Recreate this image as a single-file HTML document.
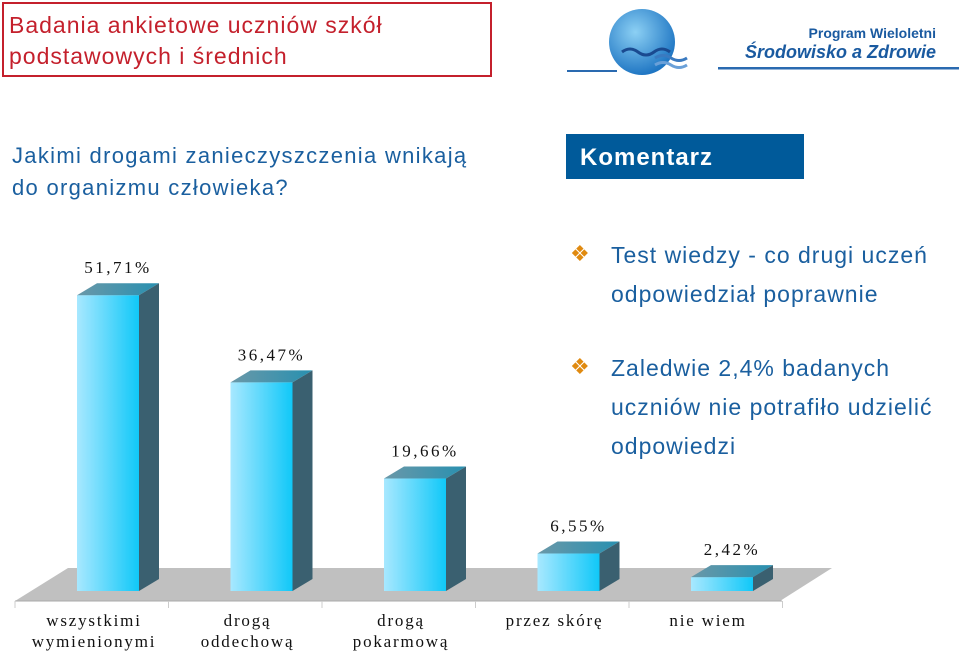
<!DOCTYPE html>
<html><head><meta charset="utf-8"><style>
body{margin:0;width:959px;height:652px;background:#fff;overflow:hidden;position:relative;font-family:"Liberation Sans",sans-serif}
.a{position:absolute;white-space:nowrap}
</style></head><body>
<div class="a" style="left:2px;top:2px;width:486px;height:71px;border:2px solid #c4202c;"></div>
<div class="a" style="left:9px;top:10px;color:#c4202c;font-size:23px;line-height:31px;letter-spacing:1px">Badania ankietowe uczniów szkół<br>podstawowych i średnich</div>
<svg class="a" style="left:560px;top:0" width="399" height="80">
<defs><radialGradient id="g" cx="0.4" cy="0.35" r="0.7"><stop offset="0" stop-color="#8cd0f4"/><stop offset="1" stop-color="#1870c0"/></radialGradient></defs>
<circle cx="82" cy="42" r="33" fill="url(#g)"/>
<path d="M62 52 q8-6 16 0 t16 0 t16 0" stroke="#1a4a90" stroke-width="3" fill="none"/>
<path d="M95 58 q8-5 16 0 t16 0" stroke="#3a7ac0" stroke-width="3" fill="none"/>
<path d="M95 65 q8-5 16 0 t16 0" stroke="#6aa0d8" stroke-width="3" fill="none"/>
<rect x="7" y="70" width="50" height="2" fill="#2a6ab0"/><rect x="158" y="67" width="241" height="2.5" fill="#2a6ab0"/>
</svg>
<div class="a" style="right:23px;top:25px;color:#1a5aa0;font-size:14px;font-weight:bold">Program Wieloletni</div>
<div class="a" style="right:23px;top:42px;color:#1a5aa0;font-size:18px;font-weight:bold;font-style:italic">Środowisko a Zdrowie</div>
<div class="a" style="left:12px;top:140px;color:#1a5f9f;font-size:22px;line-height:32px;letter-spacing:1.3px">Jakimi drogami zanieczyszczenia wnikają<br>do organizmu człowieka?</div>
<div class="a" style="left:566px;top:134px;width:238px;height:45px;background:#005a9a;color:#fff;font-size:24px;font-weight:bold;line-height:47px;text-indent:14px;letter-spacing:1px">Komentarz</div>
<div class="a" style="left:570px;top:236px;color:#1a5f9f;font-size:23px;line-height:39px;letter-spacing:1px"><span style="color:#e08a10;font-size:22px;position:absolute;left:0;top:-2px">❖</span><div style="margin-left:41px">Test wiedzy - co drugi uczeń<br>odpowiedział poprawnie</div></div>
<div class="a" style="left:570px;top:349px;color:#1a5f9f;font-size:23px;line-height:39px;letter-spacing:1px"><span style="color:#e08a10;font-size:22px;position:absolute;left:0;top:-2px">❖</span><div style="margin-left:41px">Zaledwie 2,4% badanych<br>uczniów nie potrafiło udzielić<br>odpowiedzi</div></div>
<svg class="a" id="chart" style="left:0;top:0" width="959" height="652"></svg>
<script>
const categories=[["wszystkimi","wymienionymi"],["drogą","oddechową"],["drogą","pokarmową"],["przez skórę"],["nie wiem"]];
const values=[51.71,36.47,19.66,6.55,2.42];
const valueLabels=["51,71%","36,47%","19,66%","6,55%","2,42%"];
const NS="http://www.w3.org/2000/svg",svg=document.getElementById('chart');
function mk(t,a,p){const e=document.createElementNS(NS,t);for(const k in a)e.setAttribute(k,a[k]);(p||svg).appendChild(e);return e;}
const defs=mk('defs',{});
const lg=mk('linearGradient',{id:'fr',x1:0,x2:1,y1:0,y2:0},defs);
mk('stop',{offset:0,'stop-color':'#a8e8ff'},lg);mk('stop',{offset:1,'stop-color':'#10c8f8'},lg);
const tg=mk('linearGradient',{id:'tp',x1:0,x2:1,y1:0,y2:0},defs);
mk('stop',{offset:0,'stop-color':'#6a98a8'},tg);mk('stop',{offset:1,'stop-color':'#2890b0'},tg);
const base=591,scale=5.72,x0=15,step=153.5,bw=62,dx=20,dy=12;
const y=v=>base-v*scale;
const floor=mk('polygon',{points:"15,601 780,601 832,568 68,568",fill:'#c0c0c0'});

mk('line',{x1:15,y1:601,x2:782,y2:601,stroke:'#aaa'});
for(let i=0;i<=5;i++){mk('line',{x1:x0+i*step,y1:601,x2:x0+i*step,y2:608,stroke:'#ccc'});}
values.forEach((v,i)=>{
 const l=x0+i*step+62,t=y(v);
 const g=mk('g',{});
 
 
 mk('rect',{x:l,y:t,width:bw,height:base-t,fill:'url(#fr)'},g);
 mk('polygon',{points:`${l},${t} ${l+dx},${t-dy} ${l+bw+dx},${t-dy} ${l+bw},${t}`,fill:'url(#tp)'},g);
 mk('polygon',{points:`${l+bw},${t} ${l+bw+dx},${t-dy} ${l+bw+dx},${base-dy} ${l+bw},${base}`,fill:'#3a6070'},g);
 const tx=mk('text',{x:l+bw/2+10,y:t-dy-10,'text-anchor':'middle','font-family':'Liberation Serif,serif','font-size':17,'letter-spacing':2.5,fill:'#111'});
 tx.textContent=valueLabels[i];
 
 
 categories[i].forEach((s,j)=>{
  const c=mk('text',{x:x0+i*step+79,y:626+j*21,'text-anchor':'middle','font-family':'Liberation Serif,serif','font-size':17,'letter-spacing':1.8,fill:'#111'});
  c.textContent=s;
  
  
 });
});
</script>
</body></html>
